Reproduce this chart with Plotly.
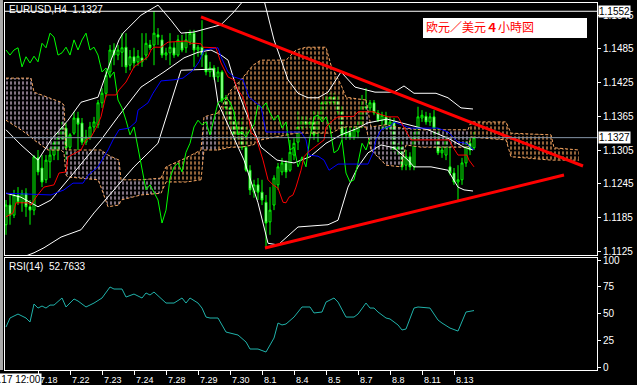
import plotly.graph_objects as go

# ---------------- EURUSD H4 candles (bar index 0..117) ----------------
open_ = [1.1172, 1.1207, 1.1189, 1.1225, 1.1212, 1.1228, 1.1204, 1.1198, 1.1291, 1.1273,
         1.1252, 1.1284, 1.1296, 1.1305, 1.1326, 1.1344, 1.1310, 1.1335, 1.1362, 1.1353,
         1.1319, 1.1328, 1.1346, 1.1350, 1.1389, 1.1406, 1.1444, 1.1483, 1.1474, 1.1479,
         1.1488, 1.1456, 1.1471, 1.1462, 1.1469, 1.1474, 1.1492, 1.1492, 1.1510, 1.1501,
         1.1474, 1.1478, 1.1487, 1.1474, 1.1497, 1.1487, 1.1497, 1.1513, 1.1483, 1.1488,
         1.1474, 1.1444, 1.1451, 1.1435, 1.1444, 1.1394, 1.1380, 1.1358, 1.1332, 1.1346,
         1.1310, 1.1269, 1.1230, 1.1243, 1.1230, 1.1212, 1.1177, 1.1207, 1.1243, 1.1266,
         1.1282, 1.1269, 1.1296, 1.1319, 1.1346, 1.1358, 1.1350, 1.1355, 1.1341, 1.1362,
         1.1387, 1.1390, 1.1399, 1.1394, 1.1373, 1.1332, 1.1337, 1.1328, 1.1337, 1.1350,
         1.1385, 1.1380, 1.1389, 1.1371, 1.1358, 1.1364, 1.1344, 1.1355, 1.1305, 1.1310,
         1.1278, 1.1293, 1.1275, 1.1328, 1.1362, 1.1365, 1.1355, 1.1364, 1.1323, 1.1300,
         1.1296, 1.1275, 1.1264, 1.1248, 1.1252, 1.1282, 1.1317, 1.1309]
high_ = [1.1216, 1.1225, 1.1234, 1.1239, 1.1234, 1.1237, 1.1216, 1.1296, 1.1305, 1.1296,
         1.1296, 1.1309, 1.1323, 1.1337, 1.1355, 1.1353, 1.1335, 1.1373, 1.1373, 1.1362,
         1.1341, 1.1355, 1.1364, 1.1394, 1.1415, 1.1447, 1.1492, 1.1495, 1.1492, 1.1513,
         1.1513, 1.1483, 1.1487, 1.1483, 1.1513, 1.1513, 1.1501, 1.1552, 1.1522, 1.1510,
         1.1487, 1.1513, 1.1497, 1.1510, 1.1510, 1.1515, 1.1519, 1.1519, 1.1492, 1.1536,
         1.1479, 1.1462, 1.1456, 1.1453, 1.1447, 1.1403, 1.1394, 1.1373, 1.1358, 1.1362,
         1.1346, 1.1278, 1.1252, 1.1255, 1.1252, 1.1225, 1.1239, 1.1260, 1.1282, 1.1291,
         1.1287, 1.1323, 1.1326, 1.1376, 1.1367, 1.1367, 1.1362, 1.1376, 1.1376, 1.1394,
         1.1403, 1.1406, 1.1406, 1.1403, 1.1385, 1.1350, 1.1346, 1.1350, 1.1358, 1.1403,
         1.1415, 1.1394, 1.1394, 1.1376, 1.1373, 1.1373, 1.1364, 1.1362, 1.1317, 1.1323,
         1.1305, 1.1301, 1.1337, 1.1382, 1.1376, 1.1373, 1.1371, 1.1376, 1.1344, 1.1314,
         1.1332, 1.1314, 1.1273, 1.1278, 1.1291, 1.1323, 1.1326, 1.1337]
low_ = [1.1154, 1.1172, 1.1184, 1.1207, 1.1195, 1.1186, 1.1172, 1.1189, 1.1260, 1.1239,
        1.1246, 1.1255, 1.1287, 1.1287, 1.1323, 1.1287, 1.1305, 1.1332, 1.1305, 1.1314,
        1.1314, 1.1323, 1.1337, 1.1344, 1.1380, 1.1399, 1.1433, 1.1456, 1.1465, 1.1453,
        1.1442, 1.1447, 1.1451, 1.1455, 1.1453, 1.1465, 1.1483, 1.1456, 1.1492, 1.1469,
        1.1465, 1.1456, 1.1469, 1.1471, 1.1479, 1.1478, 1.1492, 1.1453, 1.1471, 1.1453,
        1.1438, 1.1435, 1.1430, 1.1426, 1.1389, 1.1367, 1.1350, 1.1323, 1.1323, 1.1305,
        1.1266, 1.1225, 1.1220, 1.1216, 1.1207, 1.1132, 1.1154, 1.1198, 1.1234, 1.1260,
        1.1255, 1.1266, 1.1287, 1.1305, 1.1341, 1.1344, 1.1344, 1.1323, 1.1319, 1.1355,
        1.1376, 1.1383, 1.1383, 1.1367, 1.1323, 1.1323, 1.1323, 1.1323, 1.1326, 1.1344,
        1.1367, 1.1373, 1.1367, 1.1355, 1.1341, 1.1341, 1.1337, 1.1301, 1.1296, 1.1269,
        1.1269, 1.1269, 1.1269, 1.1319, 1.1355, 1.1350, 1.1348, 1.1328, 1.1296, 1.1291,
        1.1287, 1.1260, 1.1243, 1.1216, 1.1243, 1.1275, 1.1296, 1.1305]
close_ = [1.1207, 1.1189, 1.1225, 1.1212, 1.1228, 1.1204, 1.1198, 1.1293, 1.1266, 1.1248,
          1.1287, 1.1296, 1.1317, 1.1326, 1.1344, 1.1309, 1.1332, 1.1362, 1.1351, 1.1319,
          1.1328, 1.1346, 1.1355, 1.1389, 1.1406, 1.1438, 1.1483, 1.1474, 1.1483, 1.1487,
          1.1453, 1.1471, 1.1460, 1.1472, 1.1462, 1.1495, 1.1487, 1.1513, 1.1506, 1.1474,
          1.1478, 1.1488, 1.1474, 1.1501, 1.1483, 1.1501, 1.1513, 1.1483, 1.1488, 1.1474,
          1.1444, 1.1451, 1.1435, 1.1444, 1.1394, 1.1380, 1.1358, 1.1332, 1.1346, 1.1310,
          1.1269, 1.1234, 1.1243, 1.1230, 1.1216, 1.1175, 1.1198, 1.1255, 1.1275, 1.1282,
          1.1266, 1.1301, 1.1317, 1.1346, 1.1358, 1.1350, 1.1355, 1.1332, 1.1358, 1.1389,
          1.1394, 1.1399, 1.1390, 1.1373, 1.1332, 1.1337, 1.1328, 1.1341, 1.1350, 1.1385,
          1.1380, 1.1389, 1.1371, 1.1358, 1.1367, 1.1344, 1.1355, 1.1305, 1.1310, 1.1275,
          1.1293, 1.1275, 1.1328, 1.1364, 1.1367, 1.1355, 1.1364, 1.1344, 1.1300, 1.1305,
          1.1323, 1.1264, 1.1248, 1.1252, 1.1282, 1.1317, 1.1305, 1.1327]
bars = list(range(len(close_)))

# ---------------- Bollinger bands (white) ----------------
bb_up_x = [0, 3.75, 8, 11.25, 15.5, 18.75, 23, 24.5, 26.25, 28.25, 29.25, 33.75, 38, 41.25, 43.75, 47,
           51.25, 53.75, 57, 59.5, 62, 64.5, 67, 70.5, 73, 75.5, 78, 80.5, 83, 83.75, 87.25, 92.25, 97,
           99.5, 102, 107.5, 110.5, 113.75, 116.75]
bb_up = [1.1341, 1.1314, 1.1287, 1.1323, 1.1358, 1.1390, 1.1399, 1.1430, 1.1465, 1.1501, 1.1513, 1.1545,
         1.1563, 1.1536, 1.1513, 1.1515, 1.1524, 1.1528, 1.1551, 1.1572, 1.1593, 1.1572, 1.1501, 1.1430,
         1.1406, 1.1398, 1.1398, 1.1408, 1.1435, 1.1444, 1.1417, 1.1408, 1.1408, 1.1419, 1.1406, 1.1406,
         1.1398, 1.1380, 1.1378]
bb_mid_x = [0, 3.75, 8, 11.25, 15.5, 19.5, 23.75, 28, 31.25, 33.75, 39.5, 44.5, 48, 51.25, 53.75, 55.5,
            57.25, 59.75, 63.75, 67.75, 72, 76, 80, 83.75, 88, 90.25, 95.25, 100.5, 105.5, 110.5, 114.5, 116.75]
bb_mid = [1.1228, 1.1221, 1.1204, 1.1216, 1.1252, 1.1287, 1.1323, 1.1364, 1.1394, 1.1417, 1.1444, 1.1469,
          1.1479, 1.1483, 1.1474, 1.1465, 1.1424, 1.1376, 1.1310, 1.1287, 1.1282, 1.1293, 1.1317, 1.1332,
          1.1344, 1.1353, 1.1360, 1.1350, 1.1341, 1.1326, 1.1310, 1.1305]
bb_low_x = [0, 3.75, 7, 9.5, 13.75, 18.75, 22, 26.25, 32, 38, 41.25, 43.75, 51.75, 53, 59.5, 63, 65.5, 68,
            73, 80.5, 83, 85.5, 88, 90.5, 93.75, 97, 100.5, 102, 106.25, 110.5, 113, 114.5, 116.75]
bb_low = [1.1106, 1.1113, 1.1122, 1.1131, 1.1150, 1.1163, 1.1193, 1.1228, 1.1275, 1.1317, 1.1389, 1.1447,
          1.1449, 1.1389, 1.1287, 1.1211, 1.1139, 1.1136, 1.1168, 1.1172, 1.1180, 1.1239, 1.1275, 1.1300,
          1.1314, 1.1309, 1.1287, 1.1275, 1.1275, 1.1269, 1.1239, 1.1234, 1.1232]

# ---------------- Ichimoku: Tenkan (red), Kijun (blue) ----------------
tenkan_x = [0, 1.75, 2.5, 5.5, 6.25, 7.5, 9.5, 12, 13.25, 15, 15.5, 17.5, 18.75, 20, 21.25, 22.5, 23.75, 25,
            27.5, 28.25, 30, 32, 33.25, 35.5, 36.25, 37, 38.75, 40.5, 45, 46.25, 47.5, 48.75, 49.25, 52.5,
            53.75, 55.5, 57, 58, 59.25, 60.5, 61.25, 62.5, 63.25, 64.25, 65.5, 66.75, 68, 69.25, 70, 70.75,
            71.75, 72.5, 73.75, 74.5, 75.5, 77, 78.25, 79.5, 80, 81.75, 83, 87, 88, 92, 92.5, 94.25, 95.5,
            98, 99.5, 101.25, 108, 110.75, 111.75, 113, 115.25, 115.75, 117]
tenkan = [1.1186, 1.1193, 1.1211, 1.1211, 1.1207, 1.1221, 1.1239, 1.1243, 1.1264, 1.1266, 1.1293, 1.1301,
          1.1305, 1.1323, 1.1328, 1.1344, 1.1364, 1.1403, 1.1403, 1.1412, 1.1426, 1.1453, 1.1460, 1.1471,
          1.1483, 1.1488, 1.1488, 1.1497, 1.1499, 1.1495, 1.1495, 1.1494, 1.1488, 1.1487, 1.1460, 1.1435,
          1.1430, 1.1412, 1.1399, 1.1371, 1.1337, 1.1328, 1.1310, 1.1287, 1.1252, 1.1243, 1.1237, 1.1212,
          1.1211, 1.1221, 1.1225, 1.1239, 1.1269, 1.1293, 1.1301, 1.1309, 1.1317, 1.1323, 1.1346, 1.1358,
          1.1364, 1.1365, 1.1373, 1.1373, 1.1371, 1.1367, 1.1364, 1.1364, 1.1346, 1.1323, 1.1323, 1.1323,
          1.1310, 1.1296, 1.1296, 1.1287, 1.1275]
kijun_x = [0, 11.25, 14.5, 16.75, 19.25, 20.5, 23, 25.5, 26.75, 28.25, 30.75, 32.5, 33, 35.5, 36.75, 38.75,
           42, 44.25, 46.75, 48.25, 49.5, 53, 53.75, 55.5, 57, 59.25, 60.75, 62.5, 63.75, 65, 73.75, 75,
           75.75, 78, 79.5, 80.75, 82, 83, 90.5, 91.75, 92.5, 93.75, 96.25, 97, 98.75, 101.25, 108, 110.5,
           113, 115, 117]
kijun = [1.1228, 1.1225, 1.1234, 1.1246, 1.1246, 1.1260, 1.1275, 1.1305, 1.1323, 1.1341, 1.1344, 1.1355,
         1.1376, 1.1389, 1.1406, 1.1428, 1.1430, 1.1433, 1.1447, 1.1462, 1.1483, 1.1487, 1.1471, 1.1444,
         1.1435, 1.1430, 1.1399, 1.1389, 1.1382, 1.1337, 1.1337, 1.1323, 1.1296, 1.1294, 1.1287, 1.1269,
         1.1275, 1.1280, 1.1280, 1.1300, 1.1323, 1.1341, 1.1348, 1.1355, 1.1350, 1.1344, 1.1344, 1.1337,
         1.1319, 1.1317, 1.1305]
chikou_shift = 26

# ---------------- Ichimoku cloud (kumo) ----------------
cloud_x = [0, 3.75, 6.25, 7, 10.5, 13.75, 14.5, 15, 15.5, 23, 23.75, 25.5, 28.25, 28.75, 33.75, 38.75,
           40, 45, 48.75, 49.5, 53, 56.25, 58.75, 61.75, 63.75, 70, 72.5, 75, 80, 81.25, 83.75, 85, 90,
           91.25, 95, 98.75, 100, 103.75, 115.5, 116.25, 125, 126.25, 136.25, 137, 143.25]
cloud_top = [1.1433, 1.1433, 1.1433, 1.1408, 1.1399, 1.1390, 1.1385, 1.1305, 1.1305, 1.1305, 1.1305,
             1.1296, 1.1287, 1.1252, 1.1252, 1.1255, 1.1275, 1.1291, 1.1305, 1.1364, 1.1371, 1.1412,
             1.1430, 1.1456, 1.1465, 1.1465, 1.1483, 1.1488, 1.1488, 1.1456, 1.1421, 1.1399, 1.1394,
             1.1346, 1.1350, 1.1344, 1.1344, 1.1341, 1.1341, 1.1355, 1.1355, 1.1335, 1.1332, 1.1309, 1.1305]
cloud_bot = [1.1358, 1.1341, 1.1328, 1.1323, 1.1305, 1.1305, 1.1300, 1.1260, 1.1257, 1.1252, 1.1239,
             1.1204, 1.1207, 1.1216, 1.1225, 1.1228, 1.1248, 1.1248, 1.1252, 1.1305, 1.1305, 1.1310,
             1.1310, 1.1314, 1.1323, 1.1332, 1.1335, 1.1335, 1.1335, 1.1335, 1.1344, 1.1346, 1.1346,
             1.1305, 1.1278, 1.1275, 1.1314, 1.1310, 1.1310, 1.1328, 1.1323, 1.1293, 1.1287, 1.1287, 1.1287]
cloud_segments = [(0, 15, "down"), (15, 18, "up"), (18, 20, "down"), (20, 32, "up"), (32, 38, "down"), (38, 44, "up")]

# ---------------- RSI(14) ----------------
rsi_x = [0, 1, 3, 5, 6, 7, 8, 9, 10, 11, 12, 14, 15, 17, 18, 20, 22, 24, 26, 27, 29, 30, 32, 34, 35, 36, 37,
         40, 42, 44, 45, 46, 48, 49, 50, 51, 53, 55, 58, 60, 61, 63, 65, 67, 68, 69, 70, 72, 74, 76, 77, 79,
         80, 82, 83, 85, 87, 88, 90, 91, 92, 93, 95, 96, 98, 99, 100, 102, 103, 106, 108, 109, 111, 113, 115, 117]
rsi = [37.4, 45.8, 49.5, 45.8, 42.1, 58.9, 55.1, 57.0, 55.1, 57.9, 57.9, 64.5, 56.1, 63.6, 61.7, 56.1, 59.8,
       64.5, 74.8, 72.9, 72.9, 65.4, 68.2, 64.5, 69.2, 67.3, 70.1, 59.8, 59.8, 64.5, 59.8, 64.5, 59.8, 55.1,
       46.7, 45.8, 45.8, 32.7, 29.9, 23.4, 16.8, 16.8, 14.0, 27.1, 41.1, 39.3, 40.2, 46.7, 56.1, 56.1, 50.5,
       51.4, 60.7, 64.5, 60.7, 46.7, 46.7, 49.5, 59.8, 55.1, 55.1, 51.4, 45.8, 44.9, 39.3, 34.6, 35.5, 55.1,
       56.1, 55.1, 43.9, 41.1, 36.4, 33.6, 51.4, 52.7633]

# ---------------- drawn objects ----------------
trend_down_x = [48.75, 144.25]
trend_down_y = [1.1542, 1.12765]
trend_up_x = [64.75, 139.5]
trend_up_y = [1.11306, 1.12605]
hline_price = 1.1552

price_ticks = [1.1125, 1.1185, 1.1245, 1.1305, 1.1365, 1.1425, 1.1485, 1.1545]
rsi_ticks = [0, 25, 50, 75, 100]
time_tick_pos = [8, 16, 24, 32, 40, 48, 56, 64, 72, 80, 88, 96, 104, 112]
time_tick_labels = ["7.18", "7.22", "7.23", "7.24", "7.28", "7.29", "7.30", "8.1", "8.4", "8.5",
                    "8.7", "8.8", "8.11", "8.13"]
first_bar_label = "7.17 12:00"
symbol_label = "EURUSD,H4"
title_text = "欧元／美元<b>４</b>小時図"

# ---------------- figure ----------------
W, H = 637, 385
ML, MR, MT, MB = 5, 40, 3, 15
PW, PH = W - ML - MR, H - MT - MB


def px_x(x):
    return (x - ML) / PW


def px_y(y):
    return (H - MB - y) / PH


ORANGE = "#f4a460"
THISTLE = "#d8bfd8"
FONT = "Liberation Sans, Arial, sans-serif"

fig = go.Figure()

# cloud: vertical hatch, broken into dashes, with dotted outline
for s, e, kind in cloud_segments:
    col = ORANGE if kind == "up" else THISTLE
    xs = cloud_x[s:e + 1]
    for shape, fg, size, sol in (("|", col, 4, 0.3), ("-", "#000000", 5, 0.35)):
        fig.add_trace(go.Scatter(x=xs, y=cloud_bot[s:e + 1], mode="lines", line=dict(width=0),
                                 hoverinfo="skip", xaxis="x", yaxis="y"))
        fig.add_trace(go.Scatter(x=xs, y=cloud_top[s:e + 1], mode="lines", line=dict(width=0),
                                 fill="tonexty", fillcolor="rgba(0,0,0,0)",
                                 fillpattern=dict(shape=shape, size=size, solidity=sol, fgcolor=fg,
                                                  fgopacity=1, bgcolor="rgba(0,0,0,0)"),
                                 hoverinfo="skip", xaxis="x", yaxis="y"))
    for edge in (cloud_bot, cloud_top):
        fig.add_trace(go.Scatter(x=xs, y=edge[s:e + 1], mode="lines",
                                 line=dict(color=ORANGE, width=1, dash="3px,2px"),
                                 hoverinfo="skip", xaxis="x", yaxis="y"))

# candles
fig.add_trace(go.Candlestick(
    x=bars, open=open_, high=high_, low=low_, close=close_,
    increasing=dict(line=dict(color="#00ff00", width=1), fillcolor="#000000"),
    decreasing=dict(line=dict(color="#00ff00", width=1), fillcolor="#ffffff"),
    whiskerwidth=0, hoverinfo="skip", xaxis="x", yaxis="y"))

# bollinger
for bx, by in ((bb_up_x, bb_up), (bb_mid_x, bb_mid), (bb_low_x, bb_low)):
    fig.add_trace(go.Scatter(x=bx, y=by, mode="lines", line=dict(color="#ffffff", width=1),
                             hoverinfo="skip", xaxis="x", yaxis="y"))

# chikou span (close plotted 26 bars back)
fig.add_trace(go.Scatter(x=[i - chikou_shift for i in bars[chikou_shift:]], y=close_[chikou_shift:],
                         mode="lines", line=dict(color="#00ff00", width=1),
                         hoverinfo="skip", xaxis="x", yaxis="y"))
fig.add_trace(go.Scatter(x=kijun_x, y=kijun, mode="lines", line=dict(color="#0000ff", width=1),
                         hoverinfo="skip", xaxis="x", yaxis="y"))
fig.add_trace(go.Scatter(x=tenkan_x, y=tenkan, mode="lines", line=dict(color="#ff0000", width=1),
                         hoverinfo="skip", xaxis="x", yaxis="y"))

# trend lines
for tx, ty in ((trend_down_x, trend_down_y), (trend_up_x, trend_up_y)):
    fig.add_trace(go.Scatter(x=tx, y=ty, mode="lines", line=dict(color="#ff0000", width=3),
                             hoverinfo="skip", xaxis="x", yaxis="y"))

# RSI
fig.add_trace(go.Scatter(x=rsi_x, y=rsi, mode="lines", line=dict(color="#20b2aa", width=1),
                         hoverinfo="skip", xaxis="x2", yaxis="y2"))

axis_common = dict(showgrid=False, zeroline=False, showline=True, mirror=True,
                   linecolor="#ffffff", linewidth=1, fixedrange=True, automargin=False)

fig.update_layout(
    width=W, height=H, margin=dict(l=ML, r=MR, t=MT, b=MB, autoexpand=False),
    paper_bgcolor="#000000", plot_bgcolor="#000000", showlegend=False,
    xaxis=dict(domain=[0, 1], range=[-0.25, 147.75], anchor="y", showticklabels=False, ticks="",
               rangeslider=dict(visible=False), **axis_common),
    yaxis=dict(domain=[px_y(255), 1], range=[1.11181, 1.15667], anchor="x", side="right",
               tickvals=price_ticks, ticktext=["%.4f" % v for v in price_ticks],
               ticks="outside", ticklen=3, tickcolor="#ffffff",
               tickfont=dict(color="#ffffff", size=10, family=FONT), **axis_common),
    xaxis2=dict(domain=[0, 1], range=[-0.25, 147.75], anchor="y2", tickvals=time_tick_pos,
                showticklabels=False, ticks="outside", ticklen=4, tickcolor="#ffffff", **axis_common),
    yaxis2=dict(domain=[0, px_y(258)], range=[-2.8, 101.9], anchor="x2", side="right",
                tickvals=rsi_ticks, ticktext=[str(v) for v in rsi_ticks],
                ticks="outside", ticklen=3, tickcolor="#ffffff",
                tickfont=dict(color="#ffffff", size=10, family=FONT), **axis_common),
)

shapes = [
    dict(type="line", xref="x domain", x0=0, x1=1, yref="y", y0=hline_price, y1=hline_price,
         line=dict(color="#ffffff", width=1)),
    dict(type="line", xref="x domain", x0=0, x1=1, yref="y", y0=close_[-1], y1=close_[-1],
         line=dict(color="#8595a8", width=1)),
    dict(type="rect", xref="paper", yref="paper", x0=px_x(423), x1=px_x(587), y0=px_y(38), y1=px_y(18),
         fillcolor="#ffffff", line=dict(width=0)),
    dict(type="rect", xref="paper", yref="paper", x0=px_x(0), x1=px_x(3), y0=px_y(370), y1=px_y(0),
         fillcolor="#a8a8a8", line=dict(width=0)),
]
fig.update_layout(shapes=shapes)

ann = []
ann.append(dict(xref="paper", yref="paper", x=px_x(7), y=px_y(2), xanchor="left", yanchor="top",
                text="%s  %.4f" % (symbol_label, close_[-1]), showarrow=False,
                font=dict(color="#ffffff", size=10, family=FONT)))
ann.append(dict(xref="paper", yref="paper", x=px_x(424), y=px_y(27), xanchor="left", yanchor="middle",
                text=title_text, showarrow=False,
                font=dict(color="#ff0000", size=12, family="Noto Sans CJK JP")))
ann.append(dict(xref="paper", yref="paper", x=px_x(7), y=px_y(259), xanchor="left", yanchor="top",
                text="RSI(14)  %.4f" % rsi[-1], showarrow=False,
                font=dict(color="#ffffff", size=10, family=FONT)))
for pv in (hline_price, close_[-1]):
    ann.append(dict(xref="paper", yref="y", x=1, y=pv, xanchor="left", yanchor="middle", xshift=1,
                    text="%.4f" % pv, showarrow=False, bgcolor="#ffffff", borderpad=0,
                    font=dict(color="#000000", size=10, family=FONT)))
for pos, lab in zip(time_tick_pos, time_tick_labels):
    ann.append(dict(xref="x", yref="paper", x=pos, y=0, xanchor="left", yanchor="top", xshift=0,
                    yshift=-3, text=lab, showarrow=False,
                    font=dict(color="#ffffff", size=9, family=FONT)))
ann.append(dict(xref="paper", yref="paper", x=px_x(42), y=0, xanchor="right", yanchor="top",
                yshift=-3, text=first_bar_label, showarrow=False, bgcolor="#ffffff", borderpad=0,
                font=dict(color="#000000", size=10, family=FONT)))
fig.update_layout(annotations=ann)

fig.write_html("out.html", config={"displayModeBar": False, "staticPlot": True}, post_script=(
    "document.body.style.margin='0px';document.body.style.padding='0px';"
    "document.body.style.overflow='hidden';document.body.style.background='#000000';"))
